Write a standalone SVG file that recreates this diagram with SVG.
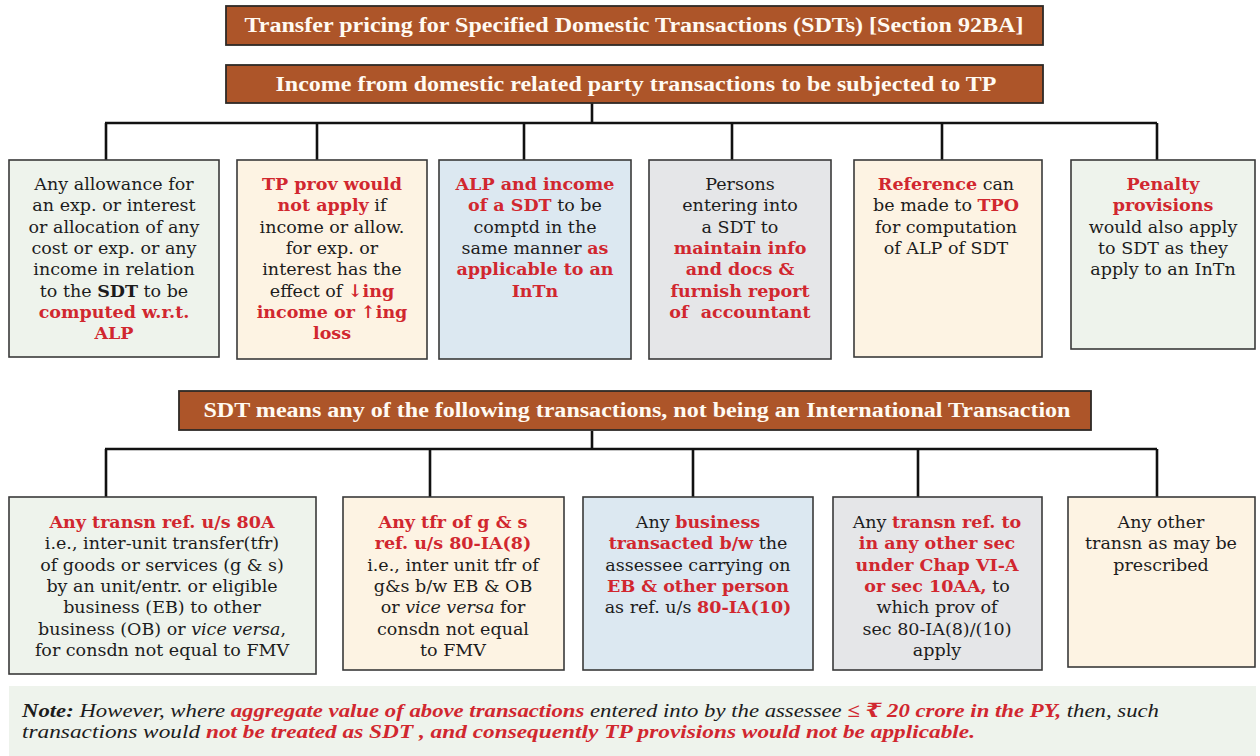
<svg xmlns="http://www.w3.org/2000/svg" width="1260" height="756" viewBox="0 0 1260 756">
<style>
.hdr{fill:#ad5529;stroke:#2e2a26;stroke-width:1.8}
.ht{font-family:"Liberation Serif","DejaVu Serif",serif;font-weight:bold;font-size:20px;fill:#fffaf2;text-anchor:middle}
.box{stroke:#3a3a3a;stroke-width:1.6}
.g{fill:#eef3ec}.c{fill:#fdf3e3}.bl{fill:#dce8f1}.gr{fill:#e5e6e8}
.t{font-family:"DejaVu Serif","Liberation Serif",serif;font-size:17.5px;fill:#1c1c1c;text-anchor:middle}
.r{fill:#d1272f;font-weight:bold}
.b{font-weight:bold}
.i{font-style:italic}
.n{font-family:"Liberation Serif","DejaVu Serif",serif;font-style:italic;font-size:19.5px;fill:#1c1c1c}
.conn{fill:none;stroke:#111;stroke-width:2.6}
</style>
<g id="connectors" class="conn">
<path d="M592,103V123M105,123H1157M106,123V160M317,123V160M524,123V160M732,123V160M942,123V160M1157,123V160"/>
<path d="M592,431V449M105,449H1157M106,449V497M430,449V497M693,449V497M918,449V497M1157,449V497"/>
</g>
<g id="h1"><rect class="hdr" x="226" y="6" width="817" height="39"/><text class="ht" x="634" y="32" textLength="779" lengthAdjust="spacingAndGlyphs">Transfer pricing for Specified Domestic Transactions (SDTs) [Section 92BA]</text></g>
<g id="h2"><rect class="hdr" x="226" y="65" width="817" height="38"/><text class="ht" x="636" y="91" textLength="721" lengthAdjust="spacingAndGlyphs">Income from domestic related party transactions to be subjected to TP</text></g>
<g id="t1"><rect class="box g" x="9" y="160" width="210" height="197"/>
<text class="t" x="114" y="190">Any allowance for</text>
<text class="t" x="114" y="211">an exp. or interest</text>
<text class="t" x="114" y="233">or allocation of any</text>
<text class="t" x="114" y="254">cost or exp. or any</text>
<text class="t" x="114" y="275">income in relation</text>
<text class="t" x="114" y="297">to the <tspan class="b">SDT</tspan> to be</text>
<text class="t r" x="114" y="318">computed w.r.t.</text>
<text class="t r" x="114" y="339">ALP</text></g>
<g id="t2"><rect class="box c" x="237" y="160" width="190" height="199"/>
<text class="t r" x="332" y="190">TP prov would</text>
<text class="t" x="332" y="211"><tspan class="r">not apply</tspan> if</text>
<text class="t" x="332" y="233">income or allow.</text>
<text class="t" x="332" y="254">for exp. or</text>
<text class="t" x="332" y="275">interest has the</text>
<text class="t" x="332" y="297">effect of <tspan class="r">↓ing</tspan></text>
<text class="t r" x="332" y="318">income or ↑ing</text>
<text class="t r" x="332" y="339">loss</text></g>
<g id="t3"><rect class="box bl" x="439" y="160" width="192" height="199"/>
<text class="t r" x="535" y="190">ALP and income</text>
<text class="t" x="535" y="211"><tspan class="r">of a SDT</tspan> to be</text>
<text class="t" x="535" y="233">comptd in the</text>
<text class="t" x="535" y="254">same manner <tspan class="r">as</tspan></text>
<text class="t r" x="535" y="275">applicable to an</text>
<text class="t r" x="535" y="297">InTn</text></g>
<g id="t4"><rect class="box gr" x="649" y="160" width="182" height="199"/>
<text class="t" x="740" y="190">Persons</text>
<text class="t" x="740" y="211">entering into</text>
<text class="t" x="740" y="233">a SDT to</text>
<text class="t r" x="740" y="254">maintain info</text>
<text class="t r" x="740" y="275">and docs &amp;</text>
<text class="t r" x="740" y="297">furnish report</text>
<text class="t r" x="740" y="318" xml:space="preserve">of  accountant</text></g>
<g id="t5"><rect class="box c" x="854" y="160" width="188" height="197"/>
<text class="t" x="946" y="190"><tspan class="r">Reference</tspan> can</text>
<text class="t" x="946" y="211">be made to <tspan class="r">TPO</tspan></text>
<text class="t" x="946" y="233">for computation</text>
<text class="t" x="946" y="254">of ALP of SDT</text></g>
<g id="t6"><rect class="box g" x="1071" y="160" width="184" height="189"/>
<text class="t r" x="1163" y="190">Penalty</text>
<text class="t r" x="1163" y="211">provisions</text>
<text class="t" x="1163" y="233">would also apply</text>
<text class="t" x="1163" y="254">to SDT as they</text>
<text class="t" x="1163" y="275">apply to an InTn</text></g>
<g id="h3"><rect class="hdr" x="179" y="391" width="912" height="39"/><text class="ht" x="637" y="417" textLength="867" lengthAdjust="spacingAndGlyphs">SDT means any of the following transactions, not being an International Transaction</text></g>
<g id="b1"><rect class="box g" x="9" y="497" width="307" height="177"/>
<text class="t r" x="162" y="528">Any transn ref. u/s 80A</text>
<text class="t" x="162" y="549">i.e., inter-unit transfer(tfr)</text>
<text class="t" x="162" y="571">of goods or services (g &amp; s)</text>
<text class="t" x="162" y="592">by an unit/entr. or eligible</text>
<text class="t" x="162" y="613">business (EB) to other</text>
<text class="t" x="162" y="635">business (OB) or <tspan class="i">vice versa</tspan>,</text>
<text class="t" x="162" y="656">for consdn not equal to FMV</text></g>
<g id="b2"><rect class="box c" x="343" y="497" width="221" height="173"/>
<text class="t r" x="453" y="528">Any tfr of g &amp; s</text>
<text class="t r" x="453" y="549">ref. u/s 80-IA(8)</text>
<text class="t" x="453" y="571">i.e., inter unit tfr of</text>
<text class="t" x="453" y="592">g&amp;s b/w EB &amp; OB</text>
<text class="t" x="453" y="613">or <tspan class="i">vice versa</tspan> for</text>
<text class="t" x="453" y="635">consdn not equal</text>
<text class="t" x="453" y="656">to FMV</text></g>
<g id="b3"><rect class="box bl" x="583" y="497" width="230" height="173"/>
<text class="t" x="698" y="528">Any <tspan class="r">business</tspan></text>
<text class="t" x="698" y="549"><tspan class="r">transacted b/w</tspan> the</text>
<text class="t" x="698" y="571">assessee carrying on</text>
<text class="t r" x="698" y="592">EB &amp; other person</text>
<text class="t" x="698" y="613">as ref. u/s <tspan class="r">80-IA(10)</tspan></text></g>
<g id="b4"><rect class="box gr" x="833" y="497" width="209" height="173"/>
<text class="t" x="937" y="528">Any <tspan class="r">transn ref. to</tspan></text>
<text class="t r" x="937" y="549">in any other sec</text>
<text class="t r" x="937" y="571">under Chap VI-A</text>
<text class="t" x="937" y="592"><tspan class="r">or sec 10AA,</tspan> to</text>
<text class="t" x="937" y="613">which prov of</text>
<text class="t" x="937" y="635">sec 80-IA(8)/(10)</text>
<text class="t" x="937" y="656">apply</text></g>
<g id="b5"><rect class="box c" x="1068" y="497" width="187" height="170"/>
<text class="t" x="1161" y="528">Any other</text>
<text class="t" x="1161" y="549">transn as may be</text>
<text class="t" x="1161" y="571">prescribed</text></g>
<g id="note"><rect x="9" y="686" width="1247" height="70" fill="#eef3ec"/>
<text class="n" x="22" y="717" textLength="1137" lengthAdjust="spacingAndGlyphs"><tspan class="b">Note:</tspan> However, where <tspan class="r">aggregate value of above transactions</tspan> entered into by the assessee <tspan class="r">≤ ₹ 20 crore in the PY,</tspan> then, such</text>
<text class="n" x="22" y="738" textLength="953" lengthAdjust="spacingAndGlyphs">transactions would <tspan class="r">not be treated as SDT , and consequently TP provisions would not be applicable.</tspan></text></g>
</svg>
